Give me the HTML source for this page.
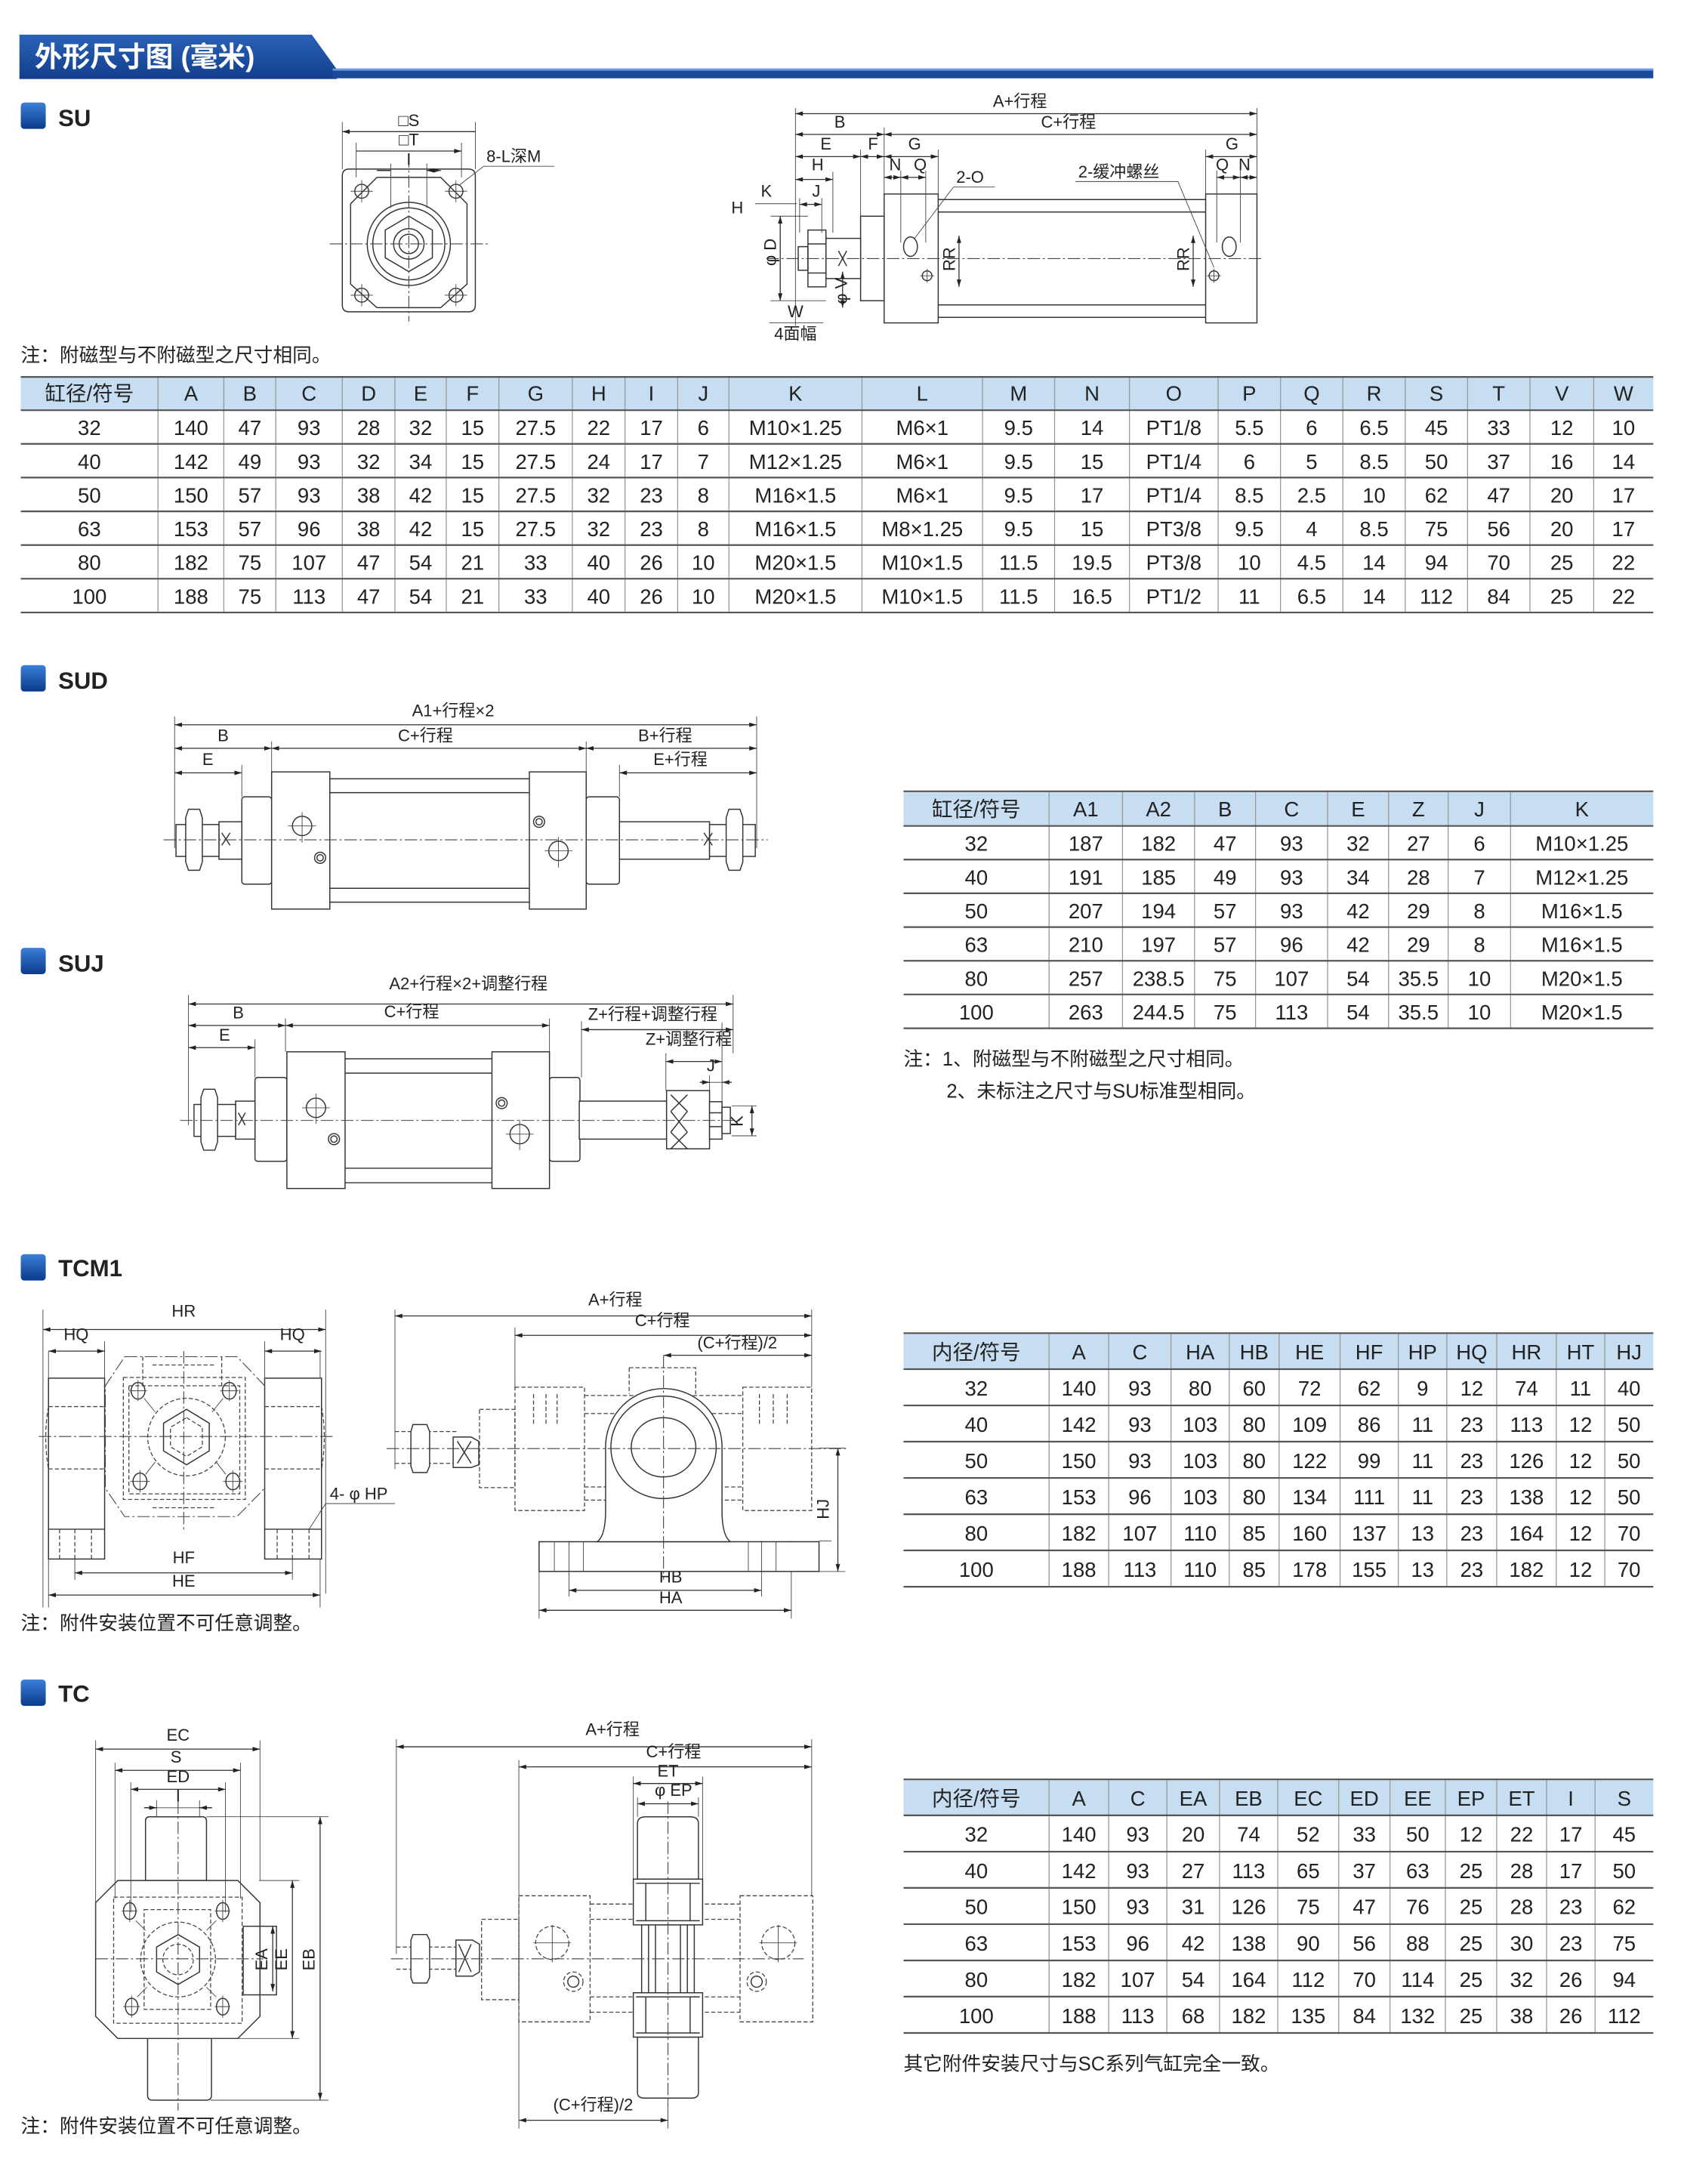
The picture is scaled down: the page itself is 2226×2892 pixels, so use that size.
<!DOCTYPE html>
<html><head><meta charset="utf-8"><style>
html,body{margin:0;padding:0;background:#fff}
svg{display:block}
text{font-family:"Liberation Sans","Noto Sans CJK SC",sans-serif;fill:#222}
.t text{font-size:15px;text-anchor:middle}
.l{font-size:12px}
.m{text-anchor:middle}
.s{fill:none;stroke:#333;stroke-width:.8}
.w{fill:#fff;stroke:#333;stroke-width:.8}
.d{fill:none;stroke:#333;stroke-width:.7;marker-start:url(#a);marker-end:url(#a)}
.e{fill:none;stroke:#444;stroke-width:.5}
.h{fill:none;stroke:#444;stroke-width:.7;stroke-dasharray:3 1.6}
.c{fill:none;stroke:#444;stroke-width:.6;stroke-dasharray:9 2 1.5 2}
.g{stroke:#555;stroke-width:1.2}
.v{stroke:#999;stroke-width:.7}
</style></head><body>
<svg width="2226" height="2892" viewBox="0 0 1213 1576" preserveAspectRatio="none" xmlns="http://www.w3.org/2000/svg">
<defs>
<marker id="a" viewBox="0 0 10 6" refX="10" refY="3" markerWidth="7" markerHeight="3.2" orient="auto-start-reverse" markerUnits="userSpaceOnUse"><path d="M0,0L10,3L0,6z" fill="#222"/></marker>
<linearGradient id="bl" x1="0" y1="0" x2="0" y2="1"><stop offset="0" stop-color="#3a7fd8"/><stop offset="1" stop-color="#0c3a8a"/></linearGradient>
<linearGradient id="hb" x1="0" y1="0" x2="0" y2="1"><stop offset="0" stop-color="#2a62b8"/><stop offset="1" stop-color="#123f8c"/></linearGradient>
</defs>
<!-- Header -->
<path d="M14,25 H225 L243,50 V57 H14 Z" fill="url(#hb)"/>
<rect x="240" y="49.5" width="953" height="7" fill="#1b4a9a"/>
<rect x="240" y="49.5" width="953" height="1.5" fill="#6b9be0"/>
<text x="25" y="48" style="font-size:20px;font-weight:bold;fill:#fff">外形尺寸图 (毫米)</text>

<!-- Section markers -->
<g fill="url(#bl)">
<rect x="15" y="74" width="18" height="19" rx="2.5"/>
<rect x="15" y="480" width="18" height="19" rx="2.5"/>
<rect x="15" y="684" width="18" height="19" rx="2.5"/>
<rect x="15" y="905" width="18" height="19" rx="2.5"/>
<rect x="15" y="1212" width="18" height="19" rx="2.5"/>
</g>
<g style="font-size:17px;font-weight:bold">
<text x="42" y="91">SU</text>
<text x="42" y="497">SUD</text>
<text x="42" y="701">SUJ</text>
<text x="42" y="921">TCM1</text>
<text x="42" y="1228">TC</text>
</g>

<!-- ================= SU front view ================= -->
<g>
<path class="w" d="M252,122 H338 Q343,122 343,127 V220 Q343,225 338,225 H252 Q247,225 247,220 V127 Q247,122 252,122 Z"/>
<path class="s" d="M272,128 H318 L337,147 V205 L318,222 H272 L253,205 V147 Z"/>
<circle class="s" cx="295" cy="176" r="30"/>
<circle class="s" cx="295" cy="176" r="26"/>
<path class="s" d="M295,156 L312,166 L312,186 L295,196 L278,186 L278,166 Z"/>
<circle class="s" cx="295" cy="176" r="11"/>
<circle class="s" cx="295" cy="176" r="7"/>
<g class="s"><circle cx="261" cy="138" r="5"/><circle cx="329" cy="138" r="5"/><circle cx="261" cy="213" r="5"/><circle cx="329" cy="213" r="5"/></g>
<path class="e" d="M261,130V146M253,138H269M329,130V146M321,138H337M261,205V221M253,213H269M329,205V221M321,213H337"/>
<path class="c" d="M238,176H352M295,112V232"/>
<path class="e" d="M247,88V122M343,88V122M257,103V128M333,103V128M282,118V150M308,118V150"/>
<path class="d" d="M247,95H343M257,109H333"/>
<path class="s" d="M272,123H282M308,123H318" marker-end="url(#a)"/>
<path class="s" d="M318,123H308" marker-end="url(#a)"/>
<text class="l m" x="295" y="91">□S</text>
<text class="l m" x="295" y="105">□T</text>
<text class="l m" x="295" y="119">I</text>
<path class="e" d="M331,134 L349,120 H400"/>
<text class="l" x="351" y="117">8-L深M</text>
</g>

<!-- ================= SU side view ================= -->
<g>
<rect class="w" x="638" y="140" width="39" height="93"/>
<rect class="w" x="870" y="140" width="37" height="93"/>
<path class="s" d="M677,144H870M677,153H870M677,220H870M677,229H870"/>
<rect class="w" x="621" y="156" width="17" height="61"/>
<rect class="w" x="596" y="172" width="25" height="29"/>
<rect class="w" x="583" y="166" width="13" height="41"/>
<path class="s" d="M583,176H596M583,197H596M576,178H583V195H576Z"/>
<path class="s" d="M605,181L611,192M611,181L605,192"/>
<ellipse class="s" cx="657" cy="178" rx="5" ry="7"/>
<ellipse class="s" cx="887" cy="178" rx="5" ry="7"/>
<circle class="s" cx="669" cy="199" r="3.5"/><circle class="s" cx="876" cy="199" r="3.5"/>
<path class="e" d="M664,199H674M669,194V204M871,199H881M876,194V204"/>
<path class="c" d="M553,186.6H912"/>
<path class="e" d="M574,78V235M907,78V140M638,92V140M621,108V156M677,108V140M870,108V140M650,123V175M668,123V175M878,123V175M895,123V175M601,124V168M577,143V168M593,143V168M563,156V217M556,156H583M556,217H596"/>
<path class="d" d="M574,82H907"/>
<path class="d" d="M574,97H638"/><path class="d" d="M638,97H907"/>
<path class="d" d="M574,113H621"/><path class="d" d="M621,113H638"/>
<path class="d" d="M638,113H677"/><path class="d" d="M870,113H907"/>
<path class="d" d="M638,128H650"/><path class="d" d="M650,128H668"/>
<path class="d" d="M878,128H895"/><path class="d" d="M895,128H907"/>
<path class="d" d="M574,129.5H601"/>
<path class="d" d="M577,147.5H593"/>
<path class="d" d="M563,156V217"/>
<path class="d" d="M692,170V207"/><path class="d" d="M861,170V207"/>
<path class="d" d="M608,196V222"/>
<path class="e" d="M555,233H594M545,147H575"/>
<text class="l m" x="736" y="77">A+行程</text>
<text class="l m" x="606" y="92">B</text>
<text class="l m" x="771" y="92">C+行程</text>
<text class="l m" x="596" y="108">E</text>
<text class="l m" x="630" y="108">F</text>
<text class="l m" x="660" y="108">G</text>
<text class="l m" x="889" y="108">G</text>
<text class="l m" x="646" y="123">N</text>
<text class="l m" x="664" y="123">Q</text>
<text class="l m" x="882" y="123">Q</text>
<text class="l m" x="898" y="123">N</text>
<text class="l m" x="590" y="123">H</text>
<text class="l m" x="589" y="142">J</text>
<text class="l m" x="553" y="142">K</text>
<text class="l m" x="532" y="154">H</text>
<text class="l" x="690" y="132">2-O</text>
<path class="e" d="M688,135H718M688,135L660,172"/>
<text class="l" x="778" y="128">2-缓冲螺丝</text>
<path class="e" d="M776,131H850L876,193"/>
<text class="l m" transform="translate(560,182) rotate(-90)">φ D</text>
<text class="l m" transform="translate(611,210) rotate(-90)">φ V</text>
<text class="l m" transform="translate(689,187) rotate(-90)">RR</text>
<text class="l m" transform="translate(858,187) rotate(-90)">RR</text>
<text class="l m" x="574" y="229">W</text>
<text class="l m" x="574" y="245">4面幅</text>
</g>

<text x="15" y="261" style="font-size:14px">注：附磁型与不附磁型之尺寸相同。</text>

<!-- ================= SU table ================= -->
<g class="t">
<rect x="15" y="272" width="1178" height="24" fill="#c6ddf2"/>
<path class="v" d="M114,272V442M161.5,272V442M199,272V442M247,272V442M285,272V442M322,272V442M360,272V442M413,272V442M451,272V442M489,272V442M526,272V442M622,272V442M709,272V442M761,272V442M815,272V442M879,272V442M924,272V442M969,272V442M1014,272V442M1059,272V442M1104,272V442M1150,272V442"/>
<path class="g" d="M15,272H1193M15,296H1193M15,320.3H1193M15,344.6H1193M15,369H1193M15,393.3H1193M15,417.6H1193M15,442H1193"/>
<text x="64.5" y="289">缸径/符号</text><text x="137.8" y="289">A</text><text x="180.3" y="289">B</text><text x="223" y="289">C</text><text x="266" y="289">D</text><text x="303.5" y="289">E</text><text x="341" y="289">F</text><text x="386.5" y="289">G</text><text x="432" y="289">H</text><text x="470" y="289">I</text><text x="507.5" y="289">J</text><text x="574" y="289">K</text><text x="665.5" y="289">L</text><text x="735" y="289">M</text><text x="788" y="289">N</text><text x="847" y="289">O</text><text x="901.5" y="289">P</text><text x="946.5" y="289">Q</text><text x="991.5" y="289">R</text><text x="1036.5" y="289">S</text><text x="1081.5" y="289">T</text><text x="1127" y="289">V</text><text x="1171.5" y="289">W</text>
<g transform="translate(0,314)"><text x="64.5">32</text><text x="137.8">140</text><text x="180.3">47</text><text x="223">93</text><text x="266">28</text><text x="303.5">32</text><text x="341">15</text><text x="386.5">27.5</text><text x="432">22</text><text x="470">17</text><text x="507.5">6</text><text x="574">M10×1.25</text><text x="665.5">M6×1</text><text x="735">9.5</text><text x="788">14</text><text x="847">PT1/8</text><text x="901.5">5.5</text><text x="946.5">6</text><text x="991.5">6.5</text><text x="1036.5">45</text><text x="1081.5">33</text><text x="1127">12</text><text x="1171.5">10</text></g>
<g transform="translate(0,338.3)"><text x="64.5">40</text><text x="137.8">142</text><text x="180.3">49</text><text x="223">93</text><text x="266">32</text><text x="303.5">34</text><text x="341">15</text><text x="386.5">27.5</text><text x="432">24</text><text x="470">17</text><text x="507.5">7</text><text x="574">M12×1.25</text><text x="665.5">M6×1</text><text x="735">9.5</text><text x="788">15</text><text x="847">PT1/4</text><text x="901.5">6</text><text x="946.5">5</text><text x="991.5">8.5</text><text x="1036.5">50</text><text x="1081.5">37</text><text x="1127">16</text><text x="1171.5">14</text></g>
<g transform="translate(0,362.6)"><text x="64.5">50</text><text x="137.8">150</text><text x="180.3">57</text><text x="223">93</text><text x="266">38</text><text x="303.5">42</text><text x="341">15</text><text x="386.5">27.5</text><text x="432">32</text><text x="470">23</text><text x="507.5">8</text><text x="574">M16×1.5</text><text x="665.5">M6×1</text><text x="735">9.5</text><text x="788">17</text><text x="847">PT1/4</text><text x="901.5">8.5</text><text x="946.5">2.5</text><text x="991.5">10</text><text x="1036.5">62</text><text x="1081.5">47</text><text x="1127">20</text><text x="1171.5">17</text></g>
<g transform="translate(0,387)"><text x="64.5">63</text><text x="137.8">153</text><text x="180.3">57</text><text x="223">96</text><text x="266">38</text><text x="303.5">42</text><text x="341">15</text><text x="386.5">27.5</text><text x="432">32</text><text x="470">23</text><text x="507.5">8</text><text x="574">M16×1.5</text><text x="665.5">M8×1.25</text><text x="735">9.5</text><text x="788">15</text><text x="847">PT3/8</text><text x="901.5">9.5</text><text x="946.5">4</text><text x="991.5">8.5</text><text x="1036.5">75</text><text x="1081.5">56</text><text x="1127">20</text><text x="1171.5">17</text></g>
<g transform="translate(0,411.3)"><text x="64.5">80</text><text x="137.8">182</text><text x="180.3">75</text><text x="223">107</text><text x="266">47</text><text x="303.5">54</text><text x="341">21</text><text x="386.5">33</text><text x="432">40</text><text x="470">26</text><text x="507.5">10</text><text x="574">M20×1.5</text><text x="665.5">M10×1.5</text><text x="735">11.5</text><text x="788">19.5</text><text x="847">PT3/8</text><text x="901.5">10</text><text x="946.5">4.5</text><text x="991.5">14</text><text x="1036.5">94</text><text x="1081.5">70</text><text x="1127">25</text><text x="1171.5">22</text></g>
<g transform="translate(0,435.6)"><text x="64.5">100</text><text x="137.8">188</text><text x="180.3">75</text><text x="223">113</text><text x="266">47</text><text x="303.5">54</text><text x="341">21</text><text x="386.5">33</text><text x="432">40</text><text x="470">26</text><text x="507.5">10</text><text x="574">M20×1.5</text><text x="665.5">M10×1.5</text><text x="735">11.5</text><text x="788">16.5</text><text x="847">PT1/2</text><text x="901.5">11</text><text x="946.5">6.5</text><text x="991.5">14</text><text x="1036.5">112</text><text x="1081.5">84</text><text x="1127">25</text><text x="1171.5">22</text></g>
</g>

<!-- ================= SUD drawing ================= -->
<g>
<path class="e" d="M126,517V612M546,517V612M196,535V557M423,535V557M174.5,552V575M447,552V575"/>
<path class="d" d="M126,523H546"/>
<path class="d" d="M126,540H196"/><path class="d" d="M196,540H423"/><path class="d" d="M423,540H546"/>
<path class="d" d="M126,557.7H174.5"/><path class="d" d="M447,557.7H546"/>
<text class="l m" x="327" y="517">A1+行程×2</text>
<text class="l m" x="161" y="535">B</text>
<text class="l m" x="307" y="535">C+行程</text>
<text class="l m" x="480" y="535">B+行程</text>
<text class="l m" x="150" y="552">E</text>
<text class="l m" x="491" y="552">E+行程</text>
<rect class="w" x="174.5" y="575" width="21.5" height="63" rx="2"/>
<rect class="w" x="423" y="575" width="24" height="63" rx="2"/>
<path class="s" d="M238,562H382M238,572H382M238,641H382M238,651H382"/>
<rect class="w" x="196" y="557" width="42" height="99"/>
<rect class="w" x="382" y="557" width="41" height="99"/>
<rect class="w" x="158" y="593" width="16.5" height="27"/>
<rect class="w" x="447" y="593" width="65" height="27"/>
<rect class="w" x="127" y="595" width="31" height="23"/>
<path class="w" d="M136,584H144L146,590V622L144,628H136L134,622V590Z"/>
<rect class="w" x="512" y="595" width="33" height="23"/>
<path class="w" d="M526,584H534L536,590V622L534,628H526L524,622V590Z"/>
<path class="s" d="M160,601L166,610M166,601L160,610M508,601L514,610M514,601L508,610"/>
<path class="c" d="M118,606H554"/>
<circle class="s" cx="218" cy="596" r="7"/><path class="e" d="M208,596H228M218,586V608"/>
<circle class="s" cx="231" cy="619" r="4"/><circle class="s" cx="231" cy="619" r="2.3"/>
<circle class="s" cx="389" cy="593" r="4"/><circle class="s" cx="389" cy="593" r="2.3"/>
<circle class="s" cx="403" cy="614" r="7"/><path class="e" d="M393,614H413M403,604V626"/>
</g>

<!-- ================= SUJ drawing ================= -->
<g>
<path class="e" d="M136,718V812M529,718V760M206,735V759M396.5,735V759M184,750V777.5M419.6,737V777.5M480.5,760V787M521,738V800M512,776V787"/>
<path class="d" d="M136,724.5H529"/>
<path class="d" d="M136,740H206"/><path class="d" d="M206,740H396.5"/>
<path class="d" d="M419.6,743H529"/>
<path class="d" d="M136,756H184"/>
<path class="d" d="M480.5,766H521"/>
<path class="s" d="M505,781H512" marker-end="url(#a)"/><path class="s" d="M528,781H521" marker-end="url(#a)"/><path class="e" d="M512,781H528"/>
<path class="d" d="M542.6,798V819.6"/><path class="e" d="M528,798H546M528,819.6H546"/>
<text class="l m" x="338" y="714">A2+行程×2+调整行程</text>
<text class="l m" x="172" y="735">B</text>
<text class="l m" x="297" y="734">C+行程</text>
<text class="l m" x="471" y="736">Z+行程+调整行程</text>
<text class="l m" x="162" y="751">E</text>
<text class="l m" x="497" y="754">Z+调整行程</text>
<text class="l m" x="513" y="773">J</text>
<text class="l m" transform="translate(536,809) rotate(-90)">K</text>
<rect class="w" x="184" y="777.5" width="23" height="60.5" rx="2"/>
<rect class="w" x="396.5" y="777.5" width="22" height="60.5" rx="2"/>
<path class="s" d="M249,764H355M249,774.4H355M249,843H355M249,853.5H355"/>
<rect class="w" x="207" y="759" width="42" height="98.6"/>
<rect class="w" x="355" y="759" width="41.5" height="98.6"/>
<rect class="w" x="170" y="794.6" width="14" height="27.4"/>
<rect class="w" x="418" y="794.6" width="63" height="27.4"/>
<rect class="w" x="140" y="797" width="30" height="23"/>
<path class="w" d="M147,786H155L157,792V824L155,830H147L145,824V792Z"/>
<rect class="w" x="481" y="787" width="31" height="42"/>
<path class="s" d="M484,790L496,802M496,790L484,802M484,802L496,817M496,802L484,817M484,817L496,829M496,817L484,829"/>
<rect class="w" x="512" y="795" width="9" height="27"/>
<path class="s" d="M512,803H521M512,813H521"/>
<rect class="w" x="521" y="799" width="6" height="19"/>
<path class="s" d="M172,803L177,812M177,803L172,812"/>
<path class="c" d="M130,808.5H536"/>
<circle class="s" cx="228" cy="799.4" r="7"/><path class="e" d="M218,799.4H238M228,789V811"/>
<circle class="s" cx="241" cy="822" r="4"/><circle class="s" cx="241" cy="822" r="2.3"/>
<circle class="s" cx="362" cy="796" r="4"/><circle class="s" cx="362" cy="796" r="2.3"/>
<circle class="s" cx="375" cy="818.4" r="7"/><path class="e" d="M365,818.4H385M375,808V830"/>
</g>

<!-- ================= Table 2 ================= -->
<g class="t">
<rect x="652" y="571" width="541" height="25" fill="#c6ddf2"/>
<path class="v" d="M757,571V742M810,571V742M862,571V742M906,571V742M958,571V742M1002,571V742M1045,571V742M1090,571V742"/>
<path class="g" d="M652,571H1193M652,596H1193M652,620.3H1193M652,644.6H1193M652,669H1193M652,693.3H1193M652,717.6H1193M652,742H1193"/>
<text x="704.5" y="589">缸径/符号</text><text x="783.5" y="589">A1</text><text x="836" y="589">A2</text><text x="884" y="589">B</text><text x="932" y="589">C</text><text x="980" y="589">E</text><text x="1023.5" y="589">Z</text><text x="1067.5" y="589">J</text><text x="1141.5" y="589">K</text>
<g transform="translate(0,614)"><text x="704.5">32</text><text x="783.5">187</text><text x="836">182</text><text x="884">47</text><text x="932">93</text><text x="980">32</text><text x="1023.5">27</text><text x="1067.5">6</text><text x="1141.5">M10×1.25</text></g>
<g transform="translate(0,638.3)"><text x="704.5">40</text><text x="783.5">191</text><text x="836">185</text><text x="884">49</text><text x="932">93</text><text x="980">34</text><text x="1023.5">28</text><text x="1067.5">7</text><text x="1141.5">M12×1.25</text></g>
<g transform="translate(0,662.6)"><text x="704.5">50</text><text x="783.5">207</text><text x="836">194</text><text x="884">57</text><text x="932">93</text><text x="980">42</text><text x="1023.5">29</text><text x="1067.5">8</text><text x="1141.5">M16×1.5</text></g>
<g transform="translate(0,687)"><text x="704.5">63</text><text x="783.5">210</text><text x="836">197</text><text x="884">57</text><text x="932">96</text><text x="980">42</text><text x="1023.5">29</text><text x="1067.5">8</text><text x="1141.5">M16×1.5</text></g>
<g transform="translate(0,711.3)"><text x="704.5">80</text><text x="783.5">257</text><text x="836">238.5</text><text x="884">75</text><text x="932">107</text><text x="980">54</text><text x="1023.5">35.5</text><text x="1067.5">10</text><text x="1141.5">M20×1.5</text></g>
<g transform="translate(0,735.6)"><text x="704.5">100</text><text x="783.5">263</text><text x="836">244.5</text><text x="884">75</text><text x="932">113</text><text x="980">54</text><text x="1023.5">35.5</text><text x="1067.5">10</text><text x="1141.5">M20×1.5</text></g>
</g>
<text x="652" y="769" style="font-size:14px">注：1、附磁型与不附磁型之尺寸相同。</text>
<text x="683" y="792" style="font-size:14px">2、未标注之尺寸与SU标准型相同。</text>

<!-- ================= TCM1 left view ================= -->
<g>
<path class="e" d="M31,945V1160M235,945V1150M35,975V1160M231,975V1160M75.5,968V994M191,968V994M54,1110V1140M211,1110V1140"/>
<path class="d" d="M31,959.4H235"/>
<path class="d" d="M35,975H75.5"/><path class="d" d="M191,975H232"/>
<path class="d" d="M54,1135H211"/>
<path class="d" d="M35,1151H231"/>
<text class="l m" x="132.6" y="950">HR</text>
<text class="l m" x="55" y="967">HQ</text>
<text class="l m" x="211" y="967">HQ</text>
<text class="l m" x="132.6" y="1128">HF</text>
<text class="l m" x="132.6" y="1145">HE</text>
<rect class="w" x="35" y="994.5" width="40.5" height="130.5"/>
<rect class="w" x="191" y="994.5" width="41" height="130.5"/>
<path class="s" d="M35,1103.5H75.5M191,1103.5H232"/>
<path class="h" d="M43,1103.5V1125M54,1103.5V1125M66,1103.5V1125M200,1103.5V1125M211,1103.5V1125M223,1103.5V1125"/>
<path class="h" d="M35,1015H75.5M35,1060H75.5M191,1015H232M191,1060H232M35,1015Q31,1037 35,1060M232,1015Q236,1037 232,1060"/>
<path class="c" d="M90,979H171L191,1000V1074L171,1094.4H90L76,1074V1000Z"/>
<path class="h" d="M89,994H177V1082H89Z"/>
<path class="h" d="M93,1000H173V1078H93Z"/>
<path class="h" d="M110,985H155M110,1088H155M160,979V1000M103,979V1000"/>
<circle class="h" cx="134.6" cy="1037" r="28"/>
<path class="s" d="M134.6,1017L151,1027V1047L134.6,1057L118,1047V1027Z"/>
<path class="h" d="M134.6,1023L146,1030V1044L134.6,1051L123,1044V1030Z"/>
<g class="s"><ellipse cx="99.6" cy="1003.6" rx="5" ry="6"/><ellipse cx="165.5" cy="1003.6" rx="5" ry="6"/><ellipse cx="101" cy="1069" rx="5" ry="6"/><ellipse cx="168" cy="1069" rx="5" ry="6"/></g>
<path class="e" d="M93,1003.6H106M99.6,996V1011M159,1003.6H172M165.5,996V1011M94,1069H108M101,1061V1077M161,1069H175M168,1061V1077M104,1009L112,1019M161,1009L153,1019M105,1064L112,1055M163,1064L156,1055"/>
<path class="c" d="M28,1036.6H241M132.6,975V1105"/>
<path class="e" d="M223,1103.5L235,1085H285"/>
<text class="l" x="238" y="1082">4- φ HP</text>
</g>

<!-- ================= TCM1 right view ================= -->
<g>
<path class="e" d="M285,945V1060M371.6,958V1001M585.7,945V1001M389,1112V1168M410.6,1112V1152M549.5,1112V1152M571,1112V1168M591,1112H600M586,1134H610M591,1045H610"/>
<path class="d" d="M285,949.6H585.7"/>
<path class="d" d="M371.6,963.6H585.7"/>
<path class="d" d="M479,978H585.7"/>
<path class="d" d="M604.6,1045V1134"/>
<path class="d" d="M586.5,1112.5V1134"/>
<path class="d" d="M410.6,1147.6H549.5"/>
<path class="d" d="M389,1162H571"/>
<text class="l m" x="444" y="942">A+行程</text>
<text class="l m" x="478" y="957">C+行程</text>
<text class="l m" x="532" y="973">(C+行程)/2</text>
<text class="l m" x="484" y="1142">HB</text>
<text class="l m" x="484" y="1157">HA</text>
<text class="l m" transform="translate(598,1089) rotate(-90)">HJ</text>
<text class="l m" transform="translate(580,1123) rotate(-90)">HT</text>
<path class="h" d="M371.6,1001H421.8V1090H371.6Z"/>
<path class="h" d="M536,1001H585.7V1090H536Z"/>
<path class="h" d="M385,1006V1028M394,1006V1028M402,1006V1028M548,1006V1028M558,1006V1028M568,1006V1028"/>
<path class="h" d="M421.8,1007H536M421.8,1020H536M421.8,1073H536M421.8,1082.5H536"/>
<path class="h" d="M346,1017H371.6V1073.5H346Z"/>
<path class="h" d="M454,987H502V1006"/><path class="h" d="M454,987V1006"/>
<path class="h" d="M285,1033H330M285,1056H330"/>
<path class="w" d="M298,1028H308L310,1033V1058L308,1062.6H298L296.5,1058V1033Z"/>
<path class="w" d="M327,1037H340L345.5,1040V1057L340,1059H327Z"/>
<path class="s" d="M330,1040L340,1056M340,1040L330,1056"/>
<path class="w" d="M389,1112.5H591V1134H389Z"/>
<path class="e" d="M400,1112.5V1134M410.6,1112.5V1134M421,1112.5V1134M540,1112.5V1134M549.5,1112.5V1134M560,1112.5V1134"/>
<path class="w" d="M431,1112.5Q437,1108 437,1090V1044A42,42 0 0 1 521,1044V1090Q521,1108 527,1112.5Z"/>
<ellipse class="s" cx="478.8" cy="1044.4" rx="38" ry="37"/>
<ellipse class="s" cx="478.8" cy="1044.4" rx="23.3" ry="21.4"/>
<path class="c" d="M279,1045.3H611M478.8,978V1140"/>
</g>
<text x="15" y="1176" style="font-size:14px">注：附件安装位置不可任意调整。</text>

<!-- ================= Table 3 ================= -->
<g class="t">
<rect x="652" y="962" width="541" height="26" fill="#c6ddf2"/>
<path class="v" d="M757,962V1145M800,962V1145M845,962V1145M887,962V1145M923,962V1145M967,962V1145M1009,962V1145M1044,962V1145M1080,962V1145M1123,962V1145M1158,962V1145"/>
<path class="g" d="M652,962H1193M652,988H1193M652,1014.2H1193M652,1040.3H1193M652,1066.5H1193M652,1092.7H1193M652,1118.8H1193M652,1145H1193"/>
<text x="704.5" y="981">内径/符号</text><text x="778.5" y="981">A</text><text x="822.5" y="981">C</text><text x="866" y="981">HA</text><text x="905" y="981">HB</text><text x="945" y="981">HE</text><text x="988" y="981">HF</text><text x="1026.5" y="981">HP</text><text x="1062" y="981">HQ</text><text x="1101.5" y="981">HR</text><text x="1140.5" y="981">HT</text><text x="1175.5" y="981">HJ</text>
<g transform="translate(0,1007)"><text x="704.5">32</text><text x="778.5">140</text><text x="822.5">93</text><text x="866">80</text><text x="905">60</text><text x="945">72</text><text x="988">62</text><text x="1026.5">9</text><text x="1062">12</text><text x="1101.5">74</text><text x="1140.5">11</text><text x="1175.5">40</text></g>
<g transform="translate(0,1033.2)"><text x="704.5">40</text><text x="778.5">142</text><text x="822.5">93</text><text x="866">103</text><text x="905">80</text><text x="945">109</text><text x="988">86</text><text x="1026.5">11</text><text x="1062">23</text><text x="1101.5">113</text><text x="1140.5">12</text><text x="1175.5">50</text></g>
<g transform="translate(0,1059.3)"><text x="704.5">50</text><text x="778.5">150</text><text x="822.5">93</text><text x="866">103</text><text x="905">80</text><text x="945">122</text><text x="988">99</text><text x="1026.5">11</text><text x="1062">23</text><text x="1101.5">126</text><text x="1140.5">12</text><text x="1175.5">50</text></g>
<g transform="translate(0,1085.5)"><text x="704.5">63</text><text x="778.5">153</text><text x="822.5">96</text><text x="866">103</text><text x="905">80</text><text x="945">134</text><text x="988">111</text><text x="1026.5">11</text><text x="1062">23</text><text x="1101.5">138</text><text x="1140.5">12</text><text x="1175.5">50</text></g>
<g transform="translate(0,1111.7)"><text x="704.5">80</text><text x="778.5">182</text><text x="822.5">107</text><text x="866">110</text><text x="905">85</text><text x="945">160</text><text x="988">137</text><text x="1026.5">13</text><text x="1062">23</text><text x="1101.5">164</text><text x="1140.5">12</text><text x="1175.5">70</text></g>
<g transform="translate(0,1137.8)"><text x="704.5">100</text><text x="778.5">188</text><text x="822.5">113</text><text x="866">110</text><text x="905">85</text><text x="945">178</text><text x="988">155</text><text x="1026.5">13</text><text x="1062">23</text><text x="1101.5">182</text><text x="1140.5">12</text><text x="1175.5">70</text></g>
</g>

<!-- ================= TC left view ================= -->
<g>
<path class="w" d="M105,1357V1314Q105,1311 108,1311H146Q149,1311 149,1314V1357Z"/>
<path class="w" d="M106.5,1471V1512Q106.5,1515.5 110,1515.5H149Q152.6,1515.5 152.6,1512V1471Z"/>
<path class="w" d="M85,1357H171.6L187.6,1373V1455L171.6,1471H85L69,1455V1373Z"/>
<rect class="s" x="175.5" y="1390" width="24" height="49.5"/>
<path class="e" d="M69,1256V1400M187.6,1256V1357M83,1272V1370M173.5,1272V1370M94.4,1286V1380M162.7,1286V1380M113,1299V1311M144,1299V1311M149,1311H237M187,1357H216M152,1471H216M152,1515.5H237"/>
<path class="d" d="M69,1262.2H187.6"/>
<path class="d" d="M83,1277.5H173.5"/>
<path class="d" d="M94.4,1291.2H162.7"/>
<path class="s" d="M104,1304.5H113" marker-end="url(#a)"/><path class="s" d="M153,1304.5H144" marker-end="url(#a)"/><path class="e" d="M113,1304.5H144"/>
<path class="d" d="M196.8,1390V1437"/>
<path class="d" d="M211,1357V1471"/>
<path class="d" d="M231,1311V1515.5"/>
<text class="l m" x="128.5" y="1256">EC</text>
<text class="l m" x="127" y="1272">S</text>
<text class="l m" x="128.5" y="1286">ED</text>
<text class="l m" x="128.5" y="1300">I</text>
<text class="l m" transform="translate(193,1414) rotate(-90)">EA</text>
<text class="l m" transform="translate(207,1414) rotate(-90)">EE</text>
<text class="l m" transform="translate(227,1414) rotate(-90)">EB</text>
<path class="h" d="M82,1369H174.7V1460H82Z"/>
<path class="h" d="M104,1378H152V1450H104Z"/>
<circle class="h" cx="128.5" cy="1414" r="27"/>
<path class="s" d="M128.5,1396L144,1405V1423L128.5,1432L113,1423V1405Z"/>
<circle class="h" cx="128.5" cy="1414" r="11"/>
<g class="s"><ellipse cx="93.6" cy="1379" rx="4.5" ry="6"/><ellipse cx="160.7" cy="1379" rx="4.5" ry="6"/><ellipse cx="95" cy="1448" rx="4.5" ry="6"/><ellipse cx="160.7" cy="1448" rx="4.5" ry="6"/></g>
<path class="e" d="M88,1379H99M93.6,1371V1387M155,1379H166M160.7,1371V1387M89,1448H101M95,1440V1456M155,1448H166M160.7,1440V1456M98,1386L105,1393M156,1386L149,1393M99,1441L106,1434M156,1441L149,1434"/>
<path class="c" d="M69,1413.5H190M128.5,1300V1523"/>
</g>

<!-- ================= TC right view ================= -->
<g>
<path class="e" d="M286,1255V1410M374.4,1270V1536M585.7,1255V1368M457,1282V1356M507,1282V1356M460,1297V1311M504,1297V1311M482,1510V1536"/>
<path class="d" d="M286,1260.5H585.7"/>
<path class="d" d="M374.4,1275H585.7"/>
<path class="d" d="M457,1287H507"/>
<path class="d" d="M460,1301.6H504"/>
<path class="d" d="M374.4,1530H482"/>
<text class="l m" x="442" y="1252">A+行程</text>
<text class="l m" x="486" y="1268">C+行程</text>
<text class="l m" x="482" y="1282">ET</text>
<text class="l m" x="486" y="1296">φ EP</text>
<text class="l m" x="428" y="1523">(C+行程)/2</text>
<path class="h" d="M374.4,1368H425.8V1459H374.4Z"/>
<path class="h" d="M534,1368H586.5V1459H534Z"/>
<path class="h" d="M425.8,1374H534M425.8,1385H534M425.8,1441H534M425.8,1452H534"/>
<path class="h" d="M347.5,1385H374.4V1443H347.5Z"/>
<path class="h" d="M286,1405H329M286,1421H329"/>
<path class="w" d="M298,1396H308L310,1400V1427L308,1431H298L296.5,1427V1400Z"/>
<path class="w" d="M329,1400H341L346,1403V1423L341,1426H329Z"/>
<path class="s" d="M331,1403L340,1423M340,1403L331,1423"/>
<path class="w" d="M460,1356V1316Q460,1311 466,1311H498Q504,1311 504,1316V1356Z"/>
<path class="w" d="M460,1470V1510Q460,1514 465,1514H499Q504,1514 504,1510V1470Z"/>
<rect class="w" x="463" y="1389" width="38" height="49"/>
<path class="s" d="M468,1389V1438M496,1389V1438M473,1389V1438M491,1389V1438"/>
<rect class="w" x="457" y="1356" width="50" height="33"/>
<rect class="w" x="457" y="1438" width="50" height="32"/>
<path class="s" d="M459,1359H505M459,1386H505M459,1441H505M459,1467H505M466,1359V1386M498,1359V1386M466,1441V1467M498,1441V1467"/>
<ellipse class="h" cx="398.5" cy="1402" rx="12" ry="12"/><path class="e" d="M385,1402H412M398.5,1389V1416"/>
<circle class="h" cx="413.7" cy="1430" r="7"/><circle class="s" cx="413.7" cy="1430" r="4"/>
<ellipse class="h" cx="561.6" cy="1402" rx="12" ry="12"/><path class="e" d="M548,1402H575M561.6,1389V1416"/>
<circle class="h" cx="546" cy="1430" r="7"/><circle class="s" cx="546" cy="1430" r="4"/>
<path class="c" d="M282,1413.5H580M482,1300V1520"/>
</g>

<!-- ================= Table 4 ================= -->
<g class="t">
<rect x="652" y="1284" width="541" height="26" fill="#c6ddf2"/>
<path class="v" d="M757,1284V1467M800,1284V1467M842,1284V1467M880,1284V1467M922,1284V1467M966,1284V1467M1003,1284V1467M1043,1284V1467M1080,1284V1467M1116,1284V1467M1151,1284V1467"/>
<path class="g" d="M652,1284H1193M652,1310H1193M652,1336.2H1193M652,1362.3H1193M652,1388.5H1193M652,1414.7H1193M652,1440.8H1193M652,1467H1193"/>
<text x="704.5" y="1303">内径/符号</text><text x="778.5" y="1303">A</text><text x="821" y="1303">C</text><text x="861" y="1303">EA</text><text x="901" y="1303">EB</text><text x="944" y="1303">EC</text><text x="984.5" y="1303">ED</text><text x="1023" y="1303">EE</text><text x="1061.5" y="1303">EP</text><text x="1098" y="1303">ET</text><text x="1133.5" y="1303">I</text><text x="1172" y="1303">S</text>
<g transform="translate(0,1329)"><text x="704.5">32</text><text x="778.5">140</text><text x="821">93</text><text x="861">20</text><text x="901">74</text><text x="944">52</text><text x="984.5">33</text><text x="1023">50</text><text x="1061.5">12</text><text x="1098">22</text><text x="1133.5">17</text><text x="1172">45</text></g>
<g transform="translate(0,1355.2)"><text x="704.5">40</text><text x="778.5">142</text><text x="821">93</text><text x="861">27</text><text x="901">113</text><text x="944">65</text><text x="984.5">37</text><text x="1023">63</text><text x="1061.5">25</text><text x="1098">28</text><text x="1133.5">17</text><text x="1172">50</text></g>
<g transform="translate(0,1381.3)"><text x="704.5">50</text><text x="778.5">150</text><text x="821">93</text><text x="861">31</text><text x="901">126</text><text x="944">75</text><text x="984.5">47</text><text x="1023">76</text><text x="1061.5">25</text><text x="1098">28</text><text x="1133.5">23</text><text x="1172">62</text></g>
<g transform="translate(0,1407.5)"><text x="704.5">63</text><text x="778.5">153</text><text x="821">96</text><text x="861">42</text><text x="901">138</text><text x="944">90</text><text x="984.5">56</text><text x="1023">88</text><text x="1061.5">25</text><text x="1098">30</text><text x="1133.5">23</text><text x="1172">75</text></g>
<g transform="translate(0,1433.7)"><text x="704.5">80</text><text x="778.5">182</text><text x="821">107</text><text x="861">54</text><text x="901">164</text><text x="944">112</text><text x="984.5">70</text><text x="1023">114</text><text x="1061.5">25</text><text x="1098">32</text><text x="1133.5">26</text><text x="1172">94</text></g>
<g transform="translate(0,1459.8)"><text x="704.5">100</text><text x="778.5">188</text><text x="821">113</text><text x="861">68</text><text x="901">182</text><text x="944">135</text><text x="984.5">84</text><text x="1023">132</text><text x="1061.5">25</text><text x="1098">38</text><text x="1133.5">26</text><text x="1172">112</text></g>
</g>
<text x="652" y="1494" style="font-size:14px">其它附件安装尺寸与SC系列气缸完全一致。</text>
<text x="15" y="1539" style="font-size:14px">注：附件安装位置不可任意调整。</text>
</svg>
</body></html>
